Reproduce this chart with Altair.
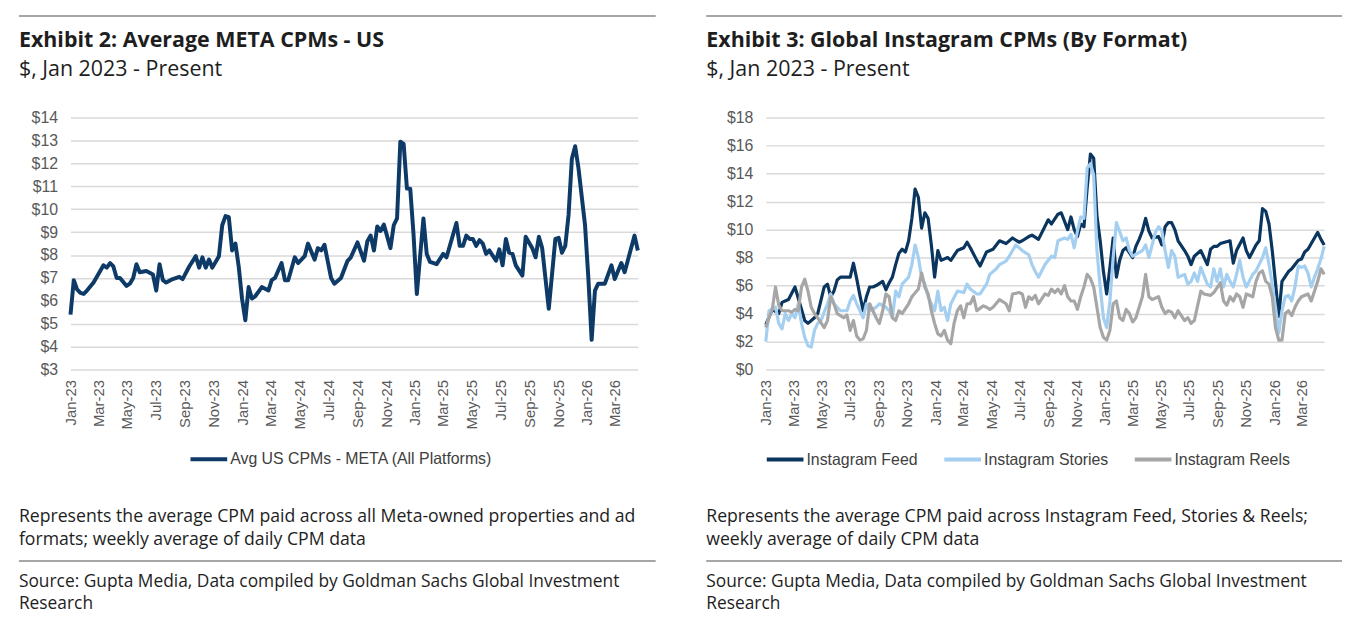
import altair as alt
import pandas as pd
import numpy as np

START = "2023-01-01"

# ---------------- Exhibit 2 : weekly observations (week index from 2023-01-01) ----------------
US_SERIES = "Avg US CPMs - META (All Platforms)"
us_weeks = [0, 1, 2, 3, 4, 5, 7, 9, 10, 11, 12, 13, 14, 15, 17, 18, 19, 20, 21, 23, 25, 26, 27, 28, 29,
            31, 33, 34, 36, 38, 39, 40, 41, 42, 43, 45, 46, 47, 48, 49, 50, 51, 52, 53, 54, 55, 56, 58,
            60, 61, 62, 64, 65, 66, 68, 69, 71, 72, 74, 75, 76, 77, 79, 80, 82, 84, 85, 87, 89, 90, 91,
            92, 93, 94, 95, 97, 98, 99, 100, 101, 102, 103, 104, 105, 107, 108, 109, 111, 113, 114, 117,
            118, 119, 120, 121, 122, 123, 124, 125, 126, 127, 129, 130, 131, 132, 133, 134, 135, 137,
            138, 140, 141, 142, 143, 145, 147, 148, 149, 150, 151, 152, 153, 154, 156, 157, 158, 159,
            160, 162, 164, 165, 167, 168, 171, 172]
us_values = [5.4, 6.9, 6.5, 6.35, 6.3, 6.45, 6.8, 7.3, 7.55, 7.45, 7.65, 7.5, 7.0, 7.0, 6.65, 6.75, 7.0,
             7.6, 7.25, 7.3, 7.15, 6.45, 7.6, 6.9, 6.8, 6.95, 7.05, 6.95, 7.5, 7.95, 7.45, 7.9, 7.45,
             7.8, 7.45, 7.95, 9.3, 9.7, 9.65, 8.2, 8.5, 7.5, 6.1, 5.15, 6.6, 6.1, 6.2, 6.6, 6.45, 6.9,
             7.0, 7.65, 6.9, 6.9, 7.9, 7.65, 7.95, 8.5, 7.8, 8.3, 8.2, 8.45, 7.0, 6.75, 7.0, 7.75, 7.9,
             8.55, 7.75, 8.6, 8.85, 8.2, 9.25, 9.05, 9.33, 8.3, 9.3, 9.6, 12.95, 12.85, 10.9, 10.9, 8.9,
             6.3, 9.6, 8.05, 7.7, 7.6, 8.05, 7.9, 9.4, 8.4, 8.4, 8.85, 8.7, 8.7, 8.4, 8.65, 8.5, 8.05,
             8.2, 7.75, 8.25, 7.55, 8.7, 8.1, 8.05, 7.55, 7.1, 8.8, 8.3, 7.9, 8.8, 8.3, 5.65, 8.7, 8.75,
             8.1, 8.4, 9.75, 12.2, 12.75, 11.8, 9.3, 7.0, 4.3, 6.45, 6.75, 6.75, 7.55, 6.95, 7.65, 7.25,
             8.85, 8.2]

# ---------------- Exhibit 3 ----------------
IG_SERIES = ["Instagram Feed", "Instagram Stories", "Instagram Reels"]
feed_weeks = [0, 2, 4, 5, 7, 9, 12, 13, 15, 16, 18, 19, 20, 21, 22, 23, 24, 26, 27, 28, 29, 30, 31, 32,
              33, 34, 36, 37, 38, 39, 40, 41, 42, 43, 44, 45, 46, 47, 48, 49, 50, 51, 52, 53, 54, 56, 57,
              59, 61, 62, 63, 65, 66, 68, 70, 71, 72, 74, 76, 78, 79, 81, 82, 84, 87, 88, 90, 91, 92,
              93, 94, 95, 96, 97, 98, 99, 100, 101, 102, 103, 104, 105, 106, 107, 108, 109, 110, 111,
              113, 114, 115, 116, 117, 118, 119, 121, 122, 123, 124, 125, 126, 127, 129, 130, 131, 132,
              134, 135, 136, 137, 138, 139, 140, 143, 144, 145, 147, 148, 149, 151, 152, 153, 154, 155,
              156, 157, 158, 159, 161, 162, 163, 164, 165, 166, 167, 169, 170, 171, 172]
feed_values = [3.2, 4.3, 4.0, 4.8, 5.0, 5.9, 3.5, 3.3, 3.7, 4.0, 5.9, 6.1, 5.2, 5.6, 6.4, 6.6, 6.6, 6.6,
               7.6, 6.5, 5.3, 4.2, 5.2, 5.9, 5.9, 6.0, 6.3, 5.7, 6.2, 6.6, 7.5, 8.3, 8.6, 8.4, 9.2, 10.8,
               12.9, 12.3, 10.1, 11.2, 10.8, 8.9, 6.6, 8.5, 7.8, 8.0, 7.8, 8.5, 8.7, 9.1, 8.7, 7.8, 7.4,
               8.4, 8.6, 8.9, 9.2, 9.0, 9.4, 9.1, 9.2, 9.5, 9.6, 9.3, 10.7, 10.4, 11.1, 11.2, 10.6, 10.0,
               10.9, 10.0, 9.5, 10.4, 10.2, 13.0, 15.4, 15.1, 11.0, 9.2, 7.0, 5.4, 7.3, 9.4, 6.6, 7.8,
               8.5, 8.7, 8.0, 8.8, 9.3, 9.9, 10.8, 9.9, 9.4, 9.5, 8.9, 10.2, 10.5, 10.5, 10.0, 9.2, 8.5,
               8.1, 7.5, 8.1, 8.5, 8.0, 7.5, 8.6, 8.8, 8.8, 9.0, 9.2, 7.6, 8.5, 9.4, 8.5, 8.0, 8.9, 9.2,
               11.5, 11.3, 10.4, 8.5, 6.2, 3.8, 6.3, 7.0, 7.2, 7.5, 7.8, 7.9, 8.4, 8.6, 9.4, 9.8, 9.3, 8.9]

stories_weeks = [0, 1, 3, 4, 5, 6, 7, 8, 9, 10, 11, 12, 13, 14, 15, 16, 17, 19, 20, 21, 23, 25, 26, 27,
                 28, 30, 31, 32, 34, 35, 37, 38, 39, 40, 41, 42, 44, 45, 46, 47, 48, 49, 50, 52, 53, 54,
                 55, 56, 57, 59, 61, 62, 63, 65, 66, 68, 69, 71, 72, 74, 75, 77, 78, 79, 81, 82, 83, 84,
                 86, 88, 89, 90, 92, 93, 94, 95, 96, 97, 98, 99, 100, 101, 102, 103, 104, 105, 106, 107,
                 108, 110, 111, 112, 113, 116, 117, 118, 120, 121, 122, 123, 124, 125, 126, 127, 129,
                 130, 131, 132, 133, 134, 136, 137, 138, 139, 140, 141, 142, 143, 144, 145, 146, 147,
                 148, 150, 151, 153, 154, 155, 156, 157, 158, 159, 160, 161, 162, 163, 164, 165, 166,
                 167, 168, 169, 170, 171, 172]
stories_values = [2.0, 4.2, 4.45, 3.3, 2.9, 4.0, 3.5, 4.0, 3.7, 4.7, 3.3, 2.3, 1.7, 1.6, 2.8, 3.3, 3.5,
                  4.7, 5.4, 4.7, 4.2, 4.2, 4.9, 5.3, 4.7, 3.7, 4.7, 4.2, 4.45, 4.7, 4.45, 4.2, 3.7, 5.6,
                  5.2, 6.1, 6.6, 7.5, 8.9, 8.0, 6.6, 6.1, 5.2, 4.2, 5.6, 4.2, 4.45, 3.5, 4.7, 5.6, 5.5,
                  6.1, 5.75, 5.4, 5.4, 6.1, 6.8, 7.2, 7.5, 7.75, 8.1, 8.9, 8.7, 8.5, 8.2, 7.5, 7.0, 6.6,
                  7.5, 8.1, 8.0, 9.2, 9.4, 9.3, 9.65, 8.7, 9.9, 10.9, 10.8, 14.4, 14.7, 13.9, 8.5, 5.9,
                  3.7, 3.0, 4.9, 8.0, 10.5, 9.2, 9.4, 8.5, 8.1, 8.5, 8.9, 8.0, 9.8, 10.2, 9.9, 8.5, 7.3,
                  8.5, 8.1, 6.6, 6.8, 6.1, 6.3, 6.9, 6.3, 7.3, 6.1, 5.9, 7.2, 6.3, 7.2, 5.9, 6.8, 6.3,
                  5.9, 6.8, 7.8, 6.6, 5.9, 6.8, 7.05, 8.0, 8.7, 7.5, 6.1, 4.45, 2.6, 4.2, 5.2, 5.3, 4.9,
                  5.9, 7.4, 7.3, 7.4, 6.9, 5.9, 6.6, 7.2, 7.9, 8.8]

reels_weeks = [0, 1, 2, 3, 4, 5, 7, 8, 9, 10, 11, 12, 13, 14, 15, 16, 18, 19, 20, 21, 22, 24, 25, 26,
               27, 28, 29, 30, 31, 32, 33, 34, 35, 36, 37, 38, 39, 40, 41, 42, 44, 45, 47, 48, 49, 50,
               51, 52, 53, 54, 55, 56, 57, 58, 59, 60, 61, 62, 63, 64, 65, 67, 68, 69, 70, 72, 74, 75,
               76, 78, 79, 80, 81, 82, 83, 84, 86, 87, 88, 89, 90, 91, 92, 93, 94, 95, 96, 97, 98, 99,
               100, 101, 102, 103, 104, 105, 106, 107, 108, 109, 110, 111, 112, 113, 114, 116, 117,
               118, 119, 121, 122, 123, 124, 125, 126, 127, 129, 130, 131, 132, 134, 135, 137, 138,
               140, 141, 142, 143, 144, 145, 146, 147, 148, 150, 151, 152, 153, 154, 155, 156, 157,
               158, 159, 160, 161, 162, 163, 164, 165, 167, 168, 169, 170, 171, 172]
reels_values = [3.0, 3.7, 4.3, 5.9, 4.6, 4.2, 4.2, 4.1, 4.3, 4.2, 5.9, 6.45, 5.6, 4.45, 4.0, 3.7, 3.0,
                3.5, 5.2, 4.7, 4.0, 3.7, 3.9, 2.8, 3.5, 2.4, 2.1, 2.2, 2.8, 4.7, 4.2, 3.7, 3.3, 4.2,
                5.4, 5.2, 3.7, 3.5, 4.2, 4.0, 4.7, 5.2, 5.75, 6.9, 5.9, 5.4, 4.2, 3.3, 2.55, 2.4, 2.8,
                2.1, 1.85, 3.3, 4.2, 4.55, 3.7, 4.7, 4.7, 5.2, 4.2, 4.55, 4.45, 4.3, 4.45, 5.0, 4.7,
                4.2, 5.4, 5.5, 5.4, 4.45, 5.2, 5.0, 5.3, 4.7, 5.4, 5.3, 5.75, 5.5, 5.75, 5.4, 6.0, 5.2,
                4.9, 4.9, 4.3, 5.2, 5.9, 6.8, 6.5, 5.9, 4.45, 3.0, 2.3, 2.1, 2.8, 4.7, 4.9, 3.7, 3.5,
                4.3, 4.0, 3.4, 3.7, 5.2, 6.8, 5.2, 5.0, 5.2, 4.45, 4.0, 4.2, 4.1, 3.7, 4.2, 3.5, 3.7,
                3.3, 3.5, 5.6, 5.4, 5.3, 5.5, 6.2, 4.9, 4.6, 5.2, 4.9, 5.4, 5.2, 4.45, 5.4, 5.2, 6.3,
                6.9, 7.05, 6.3, 6.1, 5.2, 3.0, 2.1, 2.1, 4.0, 4.2, 3.85, 4.45, 4.9, 5.2, 5.4, 4.9, 5.6,
                6.3, 7.2, 6.8]

Y1_TICKS = list(range(3, 15))
Y2_TICKS = list(range(0, 19, 2))
X_TICK_MONTHS = [(2023, 1), (2023, 3), (2023, 5), (2023, 7), (2023, 9), (2023, 11),
                 (2024, 1), (2024, 3), (2024, 5), (2024, 7), (2024, 9), (2024, 11),
                 (2025, 1), (2025, 3), (2025, 5), (2025, 7), (2025, 9), (2025, 11),
                 (2026, 1), (2026, 3)]

TITLE1 = "Exhibit 2: Average META CPMs - US"
TITLE2 = "Exhibit 3: Global Instagram CPMs (By Format)"
SUBTITLE = "$, Jan 2023 - Present"
NOTE1 = "Represents the average CPM paid across all Meta-owned properties and ad\nformats; weekly average of daily CPM data"
NOTE2 = "Represents the average CPM paid across Instagram Feed, Stories & Reels;\nweekly average of daily CPM data"
SOURCE = "Source: Gupta Media, Data compiled by Goldman Sachs Global Investment\nResearch"

AXIS_FONT = "Liberation Sans"
TEXT_FONT = "Open Sans"
AXIS_COLOR = "#595959"
GRID_COLOR = "#d9d9d9"
RULE_COLOR = "#a6a6a6"
TEXT_COLOR = "#1e1e1e"


def frame(series, weeks, values):
    dates = pd.Timestamp(START) + pd.to_timedelta(np.asarray(weeks) * 7, unit="D")
    return pd.DataFrame({"date": dates, "value": values, "series": series})


us_df = frame(US_SERIES, us_weeks, us_values)
ig_df = pd.concat([
    frame(IG_SERIES[0], feed_weeks, feed_values),
    frame(IG_SERIES[1], stories_weeks, stories_values),
    frame(IG_SERIES[2], reels_weeks, reels_values),
], ignore_index=True)


def line_layer(df, domain, colors, ydomain, yticks, legend_x, legend_y, stroke_w, col_pad):
    return alt.Chart(df).mark_line(strokeWidth=stroke_w, strokeJoin="round").encode(
        x=alt.X("date:T", title=None,
                scale=alt.Scale(domain=[alt.DateTime(year=2023, month=1, date=1),
                                        alt.DateTime(year=2026, month=4, date=19)]),
                axis=alt.Axis(values=[alt.DateTime(year=y, month=m, date=1) for y, m in X_TICK_MONTHS],
                              format="%b-%y", labelAngle=-90, grid=False, domain=False, ticks=False,
                              labelPadding=10, labelFont=AXIS_FONT, labelFontSize=15,
                              labelColor=AXIS_COLOR, labelOverlap=False)),
        y=alt.Y("value:Q", title=None,
                scale=alt.Scale(domain=ydomain, nice=False, zero=False),
                axis=alt.Axis(values=yticks, labelExpr="'$' + datum.value", grid=True,
                              gridColor=GRID_COLOR, gridWidth=1.5, domain=False, ticks=False,
                              labelPadding=13, labelFont=AXIS_FONT, labelFontSize=16,
                              labelColor=AXIS_COLOR)),
        color=alt.Color("series:N", sort=domain,
                        scale=alt.Scale(domain=domain, range=colors),
                        legend=alt.Legend(title=None, orient="none", legendX=legend_x, legendY=legend_y,
                                          direction="horizontal", symbolType="stroke", symbolSize=1369,
                                          symbolStrokeWidth=4, labelFont=AXIS_FONT, labelFontSize=16,
                                          labelColor="#404040", labelOffset=1, labelLimit=400,
                                          columnPadding=col_pad)),
    )


def text_layer(text, x, y, size, weight="normal", color=TEXT_COLOR):
    return alt.Chart(pd.DataFrame({"t": [text]})).mark_text(
        align="left", baseline="alphabetic", font=TEXT_FONT, fontSize=size, fontWeight=weight,
        color=color, lineBreak="\n", lineHeight=22.5,
    ).encode(text="t:N", x=alt.value(x), y=alt.value(y))


def hrule(x1, x2, y):
    return alt.Chart(pd.DataFrame({"r": [0]})).mark_rule(color=RULE_COLOR, strokeWidth=2).encode(
        x=alt.value(x1), x2=alt.value(x2), y=alt.value(y))


def panel(lines, title, note, left, right, width):
    return alt.layer(
        lines,
        hrule(left, right, -102.5),
        hrule(left, right, 447),
        text_layer(title, left, -71.5, 21.6, "bold"),
        text_layer(SUBTITLE, left, -42, 21.6),
        text_layer(note, left, 408, 17.8),
        text_layer(SOURCE, left, 473, 17.5),
    ).properties(width=width, height=254)


left = panel(
    line_layer(us_df, [US_SERIES], ["#0d3a66"], [3, 14], Y1_TICKS, 119, 324, 4, 18),
    TITLE1, NOTE1, -52, 590, 572)

right = panel(
    line_layer(ig_df, IG_SERIES, ["#0a355f", "#a4cff0", "#a6a6a6"], [0, 18], Y2_TICKS, -1, 324, 3.2, 18),
    TITLE2, NOTE2, -60, 581, 563)

chart = alt.hconcat(left, right, spacing=49).resolve_scale(color="independent").resolve_legend(
    color="independent"
).properties(
    padding={"left": 10, "top": 4, "right": 5, "bottom": 5}
).configure_view(stroke=None)

chart.save("out.html", embed_options={"renderer": "svg", "actions": False})
